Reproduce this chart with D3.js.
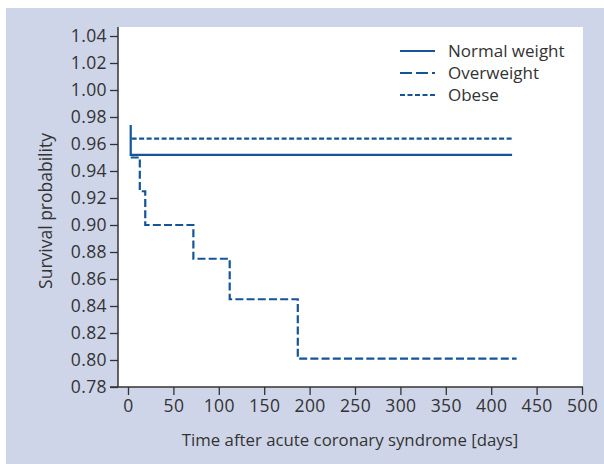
<!DOCTYPE html>
<html>
<head>
<meta charset="utf-8">
<script src="https://cdn.jsdelivr.net/npm/d3@7"></script>
<style>
  html, body { margin: 0; padding: 0; background: #fff; }
  svg { display: block; }
  text { font-family: "Open Sans", "Noto Sans", sans-serif; fill: #333; }
</style>
</head>
<body>
<svg id="chart" width="604" height="464"></svg>
<script>
// ---- data ----
const xTicks = [0, 50, 100, 150, 200, 250, 300, 350, 400, 450, 500];
const yTicks = [0.78, 0.80, 0.82, 0.84, 0.86, 0.88, 0.90, 0.92, 0.94, 0.96, 0.98, 1.00, 1.02, 1.04];
const seriesNames = ["Normal weight", "Overweight", "Obese"];
const normalDays   = [3, 3, 423];
const normalSurv   = [0.974, 0.952, 0.952];
const overDays     = [3, 13, 13, 19, 19, 72, 72, 112, 112, 187, 187, 428];
const overSurv     = [0.950, 0.950, 0.925, 0.925, 0.900, 0.900, 0.875, 0.875, 0.845, 0.845, 0.801, 0.801];
const obeseDays    = [4, 423];
const obeseSurv    = [0.964, 0.964];

const color = "#15549a";
const dashes = [null, "8,3.2", "5,2.5"];
const legendDashes = [null, "12,4", "5,2.5"];

const svg = d3.select("#chart");
const W = 604, H = 464;

// background
svg.append("rect").attr("x", 6).attr("y", 8).attr("width", W - 6).attr("height", H - 8).attr("fill", "#cfd5e8");

const plot = {left: 118, right: 583, top: 27, bottom: 387};
svg.append("rect").attr("x", plot.left).attr("y", plot.top)
  .attr("width", plot.right - plot.left).attr("height", plot.bottom - plot.top).attr("fill", "#fff");

const x = d3.scaleLinear().domain([0, 500]).range([128, 582]);
const y = d3.scaleLinear().domain([0.78, 1.04]).range([387, 36]);

// y axis
const yAxis = d3.axisLeft(y).tickValues(yTicks).tickFormat(d3.format(".2f")).tickSize(8).tickPadding(3);
const gy = svg.append("g").attr("transform", `translate(${plot.left},0)`).call(yAxis);
gy.select(".domain").remove();
gy.append("line").attr("x1", 0).attr("x2", 0).attr("y1", plot.top).attr("y2", plot.bottom)
  .attr("stroke", "#333").attr("stroke-width", 1.5);
gy.selectAll(".tick line").attr("stroke", "#333").attr("stroke-width", 1.3);
gy.selectAll(".tick text").attr("font-size", 17.5).attr("letter-spacing", 0.4).attr("fill", "#333");

// x axis
const xAxis = d3.axisBottom(x).tickValues(xTicks).tickFormat(d3.format("d")).tickSize(8).tickPadding(5);
const gx = svg.append("g").attr("transform", `translate(0,${plot.bottom})`).call(xAxis);
gx.select(".domain").remove();
gx.append("line").attr("x1", plot.left - 8).attr("x2", plot.right).attr("y1", 0).attr("y2", 0)
  .attr("stroke", "#333").attr("stroke-width", 1.5);
gx.selectAll(".tick line").attr("stroke", "#333").attr("stroke-width", 1.3);
gx.selectAll(".tick text").attr("font-size", 17.5).attr("letter-spacing", 0.4).attr("fill", "#333");

// axis titles
svg.append("text").attr("x", 350).attr("y", 446)
  .attr("text-anchor", "middle").attr("font-size", 16.8).text("Time after acute coronary syndrome [days]");
svg.append("text").attr("transform", "translate(52,211) rotate(-90)")
  .attr("text-anchor", "middle").attr("font-size", 17.5).text("Survival probability");

// curves
const line = d3.line().x(d => x(d[0])).y(d => y(d[1]));
const series = [
  d3.zip(normalDays, normalSurv),
  d3.zip(overDays, overSurv),
  d3.zip(obeseDays, obeseSurv)
];
series.forEach((pts, i) => {
  svg.append("path").datum(pts).attr("d", line)
    .attr("fill", "none").attr("stroke", color).attr("stroke-width", 2.2)
    .attr("stroke-dasharray", dashes[i]);
});

// legend
const legY = [51, 73, 95];
seriesNames.forEach((name, i) => {
  svg.append("line").attr("x1", 400).attr("x2", 435).attr("y1", legY[i]).attr("y2", legY[i])
    .attr("stroke", color).attr("stroke-width", 2.2).attr("stroke-dasharray", legendDashes[i]);
  svg.append("text").attr("x", 448).attr("y", legY[i]).attr("dy", "0.35em")
    .attr("font-size", 17).text(name);
});
</script>
</body>
</html>
